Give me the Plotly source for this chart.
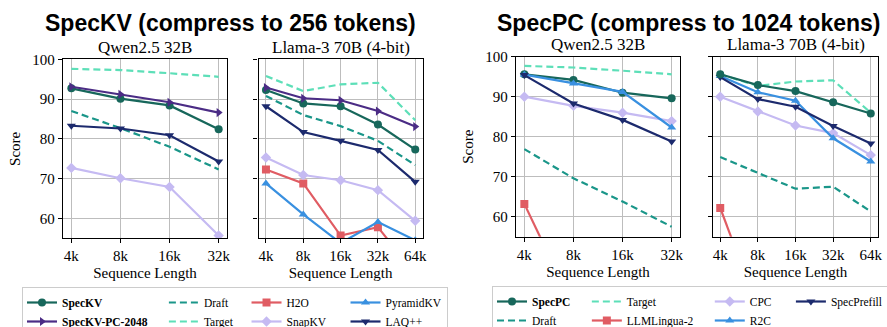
import plotly.graph_objects as go

# ---------------- data ----------------
x_qwen = ["4k", "8k", "16k", "32k"]
x_llama = ["4k", "8k", "16k", "32k", "64k"]

# SpecKV (compress to 256 tokens) - Qwen2.5 32B
kv_q_speckv = [92.7, 90.1, 88.4, 82.4]
kv_q_pc2048 = [93.1, 91.2, 89.2, 86.6]
kv_q_draft = [87.0, 82.7, 78.0, 72.3]
kv_q_target = [97.6, 97.3, 96.5, 95.6]
kv_q_snapkv = [72.7, 70.1, 67.9, 55.7]
kv_q_laq = [83.3, 82.6, 80.9, 74.3]

# SpecKV - Llama-3 70B (4-bit)
kv_l_speckv = [92.3, 88.9, 88.2, 83.6, 77.3]
kv_l_pc2048 = [92.9, 90.2, 89.7, 87.0, 83.1]
kv_l_draft = [90.8, 86.0, 83.2, 79.5, 73.4]
kv_l_target = [95.8, 92.0, 93.7, 94.1, 84.7]
kv_l_h2o = [72.3, 68.8, 55.7, 57.8, 46.0]
kv_l_snapkv = [75.3, 70.9, 69.6, 67.1, 59.4]
kv_l_pyramid = [68.8, 61.0, 53.8, 59.1, 54.5]
kv_l_laq = [88.2, 81.7, 79.5, 77.2, 69.2]

# SpecPC (compress to 1024 tokens) - Qwen2.5 32B
pc_q_specpc = [95.6, 94.2, 91.0, 89.6]
pc_q_draft = [76.9, 69.6, 63.8, 57.5]
pc_q_target = [97.7, 97.3, 96.5, 95.6]
pc_q_llmlingua = [63.2, 37.5, None, None]
pc_q_cpc = [90.0, 87.7, 86.0, 83.9]
pc_q_r2c = [95.5, 93.3, 91.2, 82.3]
pc_q_specprefill = [95.4, 88.3, 84.2, 78.8]

# SpecPC - Llama-3 70B (4-bit)
pc_l_specpc = [95.6, 92.9, 91.4, 88.6, 85.8]
pc_l_draft = [74.9, 70.9, 67.0, 67.5, 61.3]
pc_l_target = [95.6, 92.7, 93.8, 94.1, 86.0]
pc_l_llmlingua = [62.2, 37.0, None, None, None]
pc_l_cpc = [90.0, 86.3, 82.8, 80.9, 75.4]
pc_l_r2c = [95.2, 91.1, 89.0, 79.6, 73.8]
pc_l_specprefill = [94.9, 89.4, 87.5, 82.7, 78.3]

main_titles = ["SpecKV (compress to 256 tokens)", "SpecPC (compress to 1024 tokens)"]
panel_titles = ["Qwen2.5 32B", "Llama-3 70B (4-bit)", "Qwen2.5 32B", "Llama-3 70B (4-bit)"]

# ---------------- styles ----------------
SERIF = "Liberation Serif, Times New Roman, serif"
SANS = "Liberation Sans, Arial, sans-serif"
C_MAIN = "#17675b"
C_PURPLE = "#4b2c85"
C_DRAFT = "#1a9689"
C_TARGET = "#5ddfb8"
C_RED = "#e05c63"
C_LAV = "#c5baf2"
C_BLUE = "#3990e0"
C_NAVY = "#1c2a6d"
GRID = "#bdbdbd"
NB = "\u00a0"

# color, marker, dash, bold, group, pad
styles = {
    "SpecKV": (C_MAIN, "circle", "solid", True, "k1", 4),
    "SpecKV-PC-2048": (C_PURPLE, "triangle-right", "solid", True, "k1", 4),
    "Draft": (C_DRAFT, None, "7px,4px", False, "k2", 3),
    "Target": (C_TARGET, None, "7px,4px", False, "k2", 3),
    "H2O": (C_RED, "square", "solid", False, "k3", 5),
    "SnapKV": (C_LAV, "diamond", "solid", False, "k3", 5),
    "PyramidKV": (C_BLUE, "triangle-up", "solid", False, "k4", 0),
    "LAQ++": (C_NAVY, "triangle-down", "solid", False, "k4", 0),
    "SpecPC": (C_MAIN, "circle", "solid", True, "p1", 4),
    "Draft ": (C_DRAFT, None, "7px,4px", False, "p1", 4),
    "Target ": (C_TARGET, None, "7px,4px", False, "p2", 4),
    "LLMLingua-2": (C_RED, "square", "solid", False, "p2", 4),
    "CPC": (C_LAV, "diamond", "solid", False, "p3", 5),
    "R2C": (C_BLUE, "triangle-up", "solid", False, "p3", 5),
    "SpecPrefill": (C_NAVY, "triangle-down", "solid", False, "p4", 0),
}
order_kv = ["SpecKV", "SpecKV-PC-2048", "Draft", "Target", "H2O", "SnapKV", "PyramidKV", "LAQ++"]
order_pc = ["SpecPC", "Draft ", "Target ", "LLMLingua-2", "CPC", "R2C", "SpecPrefill"]

fig = go.Figure()
shown = set()


def add(key, xs, ys, ax, legend):
    color, sym, dash, bold, group, pad = styles[key]
    label = key.strip()
    if bold:
        label = "<b>" + label + "</b>"
    label = label + NB * pad
    order = order_kv if legend == "legend" else order_pc
    show = key not in shown
    shown.add(key)
    mode = "lines+markers" if sym else "lines"
    fig.add_trace(go.Scatter(
        x=xs, y=ys, mode=mode, name=label,
        line=dict(color=color, width=2.2, dash=dash),
        marker=dict(symbol=sym or "circle", size=8, color=color),
        xaxis="x" + ax, yaxis="y" + ax,
        legend=legend, legendgroup=group, showlegend=show,
        legendrank=order.index(key) + 1,
        connectgaps=False,
    ))


# panel 2 first so every legend entry exists
add("SpecKV", x_llama, kv_l_speckv, "2", "legend")
add("SpecKV-PC-2048", x_llama, kv_l_pc2048, "2", "legend")
add("Draft", x_llama, kv_l_draft, "2", "legend")
add("Target", x_llama, kv_l_target, "2", "legend")
add("H2O", x_llama, kv_l_h2o, "2", "legend")
add("SnapKV", x_llama, kv_l_snapkv, "2", "legend")
add("PyramidKV", x_llama, kv_l_pyramid, "2", "legend")
add("LAQ++", x_llama, kv_l_laq, "2", "legend")

add("Target", x_qwen, kv_q_target, "", "legend")
add("Draft", x_qwen, kv_q_draft, "", "legend")
add("SnapKV", x_qwen, kv_q_snapkv, "", "legend")
add("LAQ++", x_qwen, kv_q_laq, "", "legend")
add("SpecKV", x_qwen, kv_q_speckv, "", "legend")
add("SpecKV-PC-2048", x_qwen, kv_q_pc2048, "", "legend")

add("SpecPC", x_qwen, pc_q_specpc, "3", "legend2")
add("Draft ", x_qwen, pc_q_draft, "3", "legend2")
add("Target ", x_qwen, pc_q_target, "3", "legend2")
add("LLMLingua-2", x_qwen, pc_q_llmlingua, "3", "legend2")
add("CPC", x_qwen, pc_q_cpc, "3", "legend2")
add("R2C", x_qwen, pc_q_r2c, "3", "legend2")
add("SpecPrefill", x_qwen, pc_q_specprefill, "3", "legend2")

add("Draft ", x_llama, pc_l_draft, "4", "legend2")
add("Target ", x_llama, pc_l_target, "4", "legend2")
add("LLMLingua-2", x_llama, pc_l_llmlingua, "4", "legend2")
add("CPC", x_llama, pc_l_cpc, "4", "legend2")
add("R2C", x_llama, pc_l_r2c, "4", "legend2")
add("SpecPrefill", x_llama, pc_l_specprefill, "4", "legend2")
add("SpecPC", x_llama, pc_l_specpc, "4", "legend2")

W, H = 887, 327
# plot areas in pixels (left, right, top, bottom)
boxes = [(63, 227, 59.3, 238.3), (258.5, 422.7, 59.3, 238.3),
         (516, 680, 56.7, 236.7), (712.7, 878.3, 56.7, 236.7)]
cats = [x_qwen, x_llama, x_qwen, x_llama]

layout = dict(
    width=W, height=H,
    margin=dict(l=0, r=0, t=0, b=0, autoexpand=False),
    paper_bgcolor="white", plot_bgcolor="white",
    font=dict(family=SERIF, color="black"),
    annotations=[],
)
for i, (l, r, t, b) in enumerate(boxes):
    s = "" if i == 0 else str(i + 1)
    n = len(cats[i])
    pad = 0.17 if n == 4 else 0.2
    layout["xaxis" + s] = dict(
        domain=[l / W, r / W], anchor="y" + s,
        type="category", categoryorder="array", categoryarray=cats[i],
        range=[-pad, n - 1 + pad],
        showgrid=True, gridcolor=GRID, gridwidth=1, zeroline=False,
        showline=True, linecolor="black", linewidth=1.3, mirror=True,
        ticks="outside", ticklen=4, tickcolor="black",
        tickfont=dict(family=SERIF, size=15, color="black"),
        title=dict(text="Sequence Length", font=dict(family=SERIF, size=15, color="black"), standoff=4),
    )
    layout["yaxis" + s] = dict(
        domain=[1 - b / H, 1 - t / H], anchor="x" + s,
        range=[55, 100], dtick=10, tick0=0,
        showgrid=True, gridcolor=GRID, gridwidth=1, zeroline=False,
        showline=True, linecolor="black", linewidth=1.3, mirror=True,
        ticks="outside", ticklen=4, tickcolor="black",
        showticklabels=(i in (0, 2)),
        tickfont=dict(family=SERIF, size=15, color="black"),
        title=dict(text="Score" if i in (0, 2) else "", font=dict(family=SERIF, size=15, color="black"), standoff=8),
    )
    layout["annotations"].append(dict(
        text=panel_titles[i], x=(l + r) / 2 / W, y=1 - (t - 12.0) / H,
        xref="paper", yref="paper", xanchor="center", yanchor="middle",
        showarrow=False, font=dict(family=SERIF, size=17, color="black"),
    ))

for txt, cx in zip(main_titles, [230, 688.5]):
    layout["annotations"].append(dict(
        text="<b>" + txt + "</b>", x=cx / W, y=1 - 23 / H,
        xref="paper", yref="paper", xanchor="center", yanchor="middle",
        showarrow=False, font=dict(family=SANS, size=23, color="black"),
    ))

leg_common = dict(
    orientation="h", traceorder="grouped", xanchor="left", yanchor="top",
    bgcolor="white", bordercolor="#cccccc", borderwidth=1,
    font=dict(family=SERIF, size=11.5, color="black"),
    tracegroupgap=0, itemwidth=30,
)
layout["legend"] = dict(leg_common, x=22 / W, y=1 - 287 / H)
layout["legend2"] = dict(leg_common, x=492 / W, y=1 - 286 / H)

fig.update_layout(**layout)
fig.write_html(
    "out.html",
    config={"displayModeBar": False},
    post_script="document.body.style.margin='0';document.body.style.overflow='hidden';",
)
